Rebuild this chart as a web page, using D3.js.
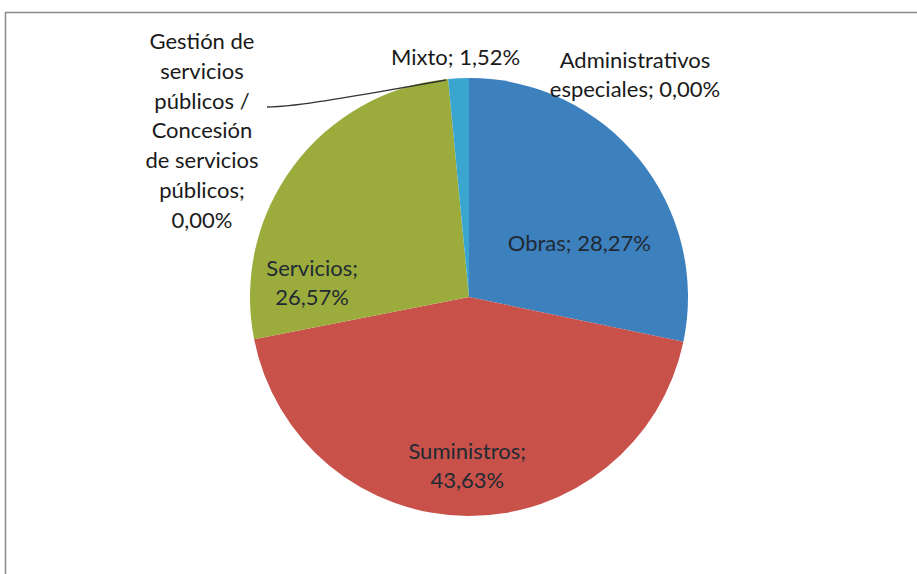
<!DOCTYPE html>
<html><head><meta charset="utf-8">
<script src="https://cdn.jsdelivr.net/npm/d3@7"></script>
<style>body{margin:0;background:#fff}svg{display:block}</style>
</head><body>
<svg id="c" width="917" height="574"></svg>
<script>
const categories = ["Obras","Suministros","Servicios","Gestión de servicios públicos / Concesión de servicios públicos","Mixto","Administrativos especiales"];
const values = [28.27, 43.63, 26.57, 0.00, 1.52, 0.00];
const colors = ["#3d80be","#c8524a","#9cac3c","#7f63a8","#3aa6d0","#f39a3b"];
const labelLines = [
  ["Obras; 28,27%"],
  ["Suministros;","43,63%"],
  ["Servicios;","26,57%"],
  ["Gestión de","servicios","públicos /","Concesión","de servicios","públicos;","0,00%"],
  ["Mixto; 1,52%"],
  ["Administrativos","especiales; 0,00%"]
];
const data = categories.map((c,i)=>({name:c,value:values[i],color:colors[i],lines:labelLines[i]}));

const svg = d3.select("#c");
const W=917,H=574, cx=469, cy=297, R=219;
svg.append("path").attr("d",`M5.5,${H} V12.5 H${W}`).attr("fill","none").attr("stroke","#8a8a8a").attr("stroke-width",1.5);

const pie = d3.pie().sort(null).value(d=>d.value);
const arcs = pie(data);
const arc = d3.arc().innerRadius(0).outerRadius(R);
const g = svg.append("g").attr("transform",`translate(${cx},${cy})`);
g.selectAll("path").data(arcs.filter(a=>a.data.value>0)).join("path")
  .attr("d",arc).attr("fill",d=>d.data.color).attr("stroke","none");

const font = "Lato, 'Open Sans', sans-serif";
const fs = 22;
const inner = d3.arc().innerRadius(R*0.62).outerRadius(R*0.62);
function drawLabel(lines, x, y, fill, lh){
  const t = svg.append("text").attr("font-family",font).attr("font-size",fs)
    .attr("fill",fill).attr("text-anchor","middle");
  lines.forEach((l,i)=>t.append("tspan").attr("x",x).attr("y",y+i*lh).text(l));
}
const insideOffsets = {0:[5,34],1:[-1,20],2:[-48,54]};
[0,1,2].forEach(i=>{
  const c = inner.centroid(arcs[i]);
  const o = insideOffsets[i];
  drawLabel(arcs[i].data.lines, cx+c[0]+o[0], cy+c[1]+o[1]+6, "#1f2a33", 29);
});
const ext = d3.arc().innerRadius(R).outerRadius(R);
const mp = ext.centroid(arcs[4]);
drawLabel(arcs[4].data.lines, cx+mp[0]-3, cy-R-13, "#1a1a1a", 29);
drawLabel(arcs[5].data.lines, cx+166, cy-R-10, "#1a1a1a", 29);
drawLabel(arcs[3].data.lines, cx-267, cy-R-29, "#1a1a1a", 29.8);
const gp = ext.centroid(arcs[3]);
svg.append("path").attr("fill","none").attr("stroke","#333").attr("stroke-width",1.3)
  .attr("d",d3.line().curve(d3.curveBasis)([[cx-202,cy-190],[cx-175,cy-191],[cx-90,cy-205],[cx+gp[0]-2,cy+gp[1]+1]]));
</script>
</body></html>
